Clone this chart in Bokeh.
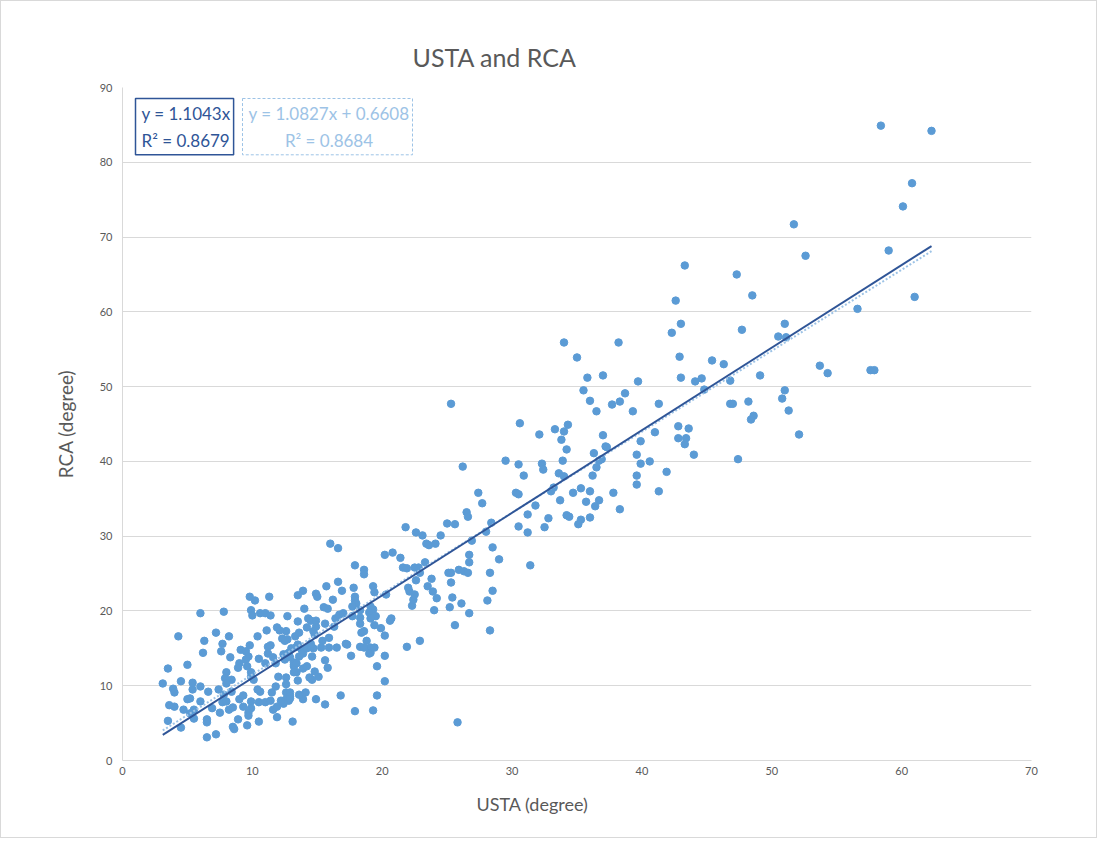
from bokeh.plotting import figure
from bokeh.models import Label, Range1d, SingleIntervalTicker, Title
from bokeh.embed import file_html
from bokeh.resources import INLINE

# ---- data ----
usta = [58.4, 62.3, 60.8, 60.1, 51.7, 59.0, 52.6, 43.3, 47.3, 42.6, 48.5, 61.0, 56.6, 51.0, 43.0, 42.3, 47.7, 50.5, 51.1, 34.0,
        38.2, 35.0, 42.9, 45.4, 46.3, 53.7, 54.3, 57.6, 57.9, 35.8, 37.0, 43.0, 44.1, 44.6, 39.7, 46.8, 49.1, 44.8, 35.5, 51.0,
        50.8, 51.3, 52.1, 36.0, 37.7, 38.3, 38.7, 36.5, 39.3, 41.3, 46.8, 47.0, 48.2, 48.6, 48.4, 30.6, 34.3, 33.3, 34.0, 32.1,
        33.8, 34.2, 37.0, 37.2, 37.3, 36.3, 36.9, 36.7, 36.5, 36.2, 33.9, 32.3, 32.4, 30.5, 30.9, 29.5, 33.6, 34.0, 41.0, 39.9,
        39.6, 39.9, 40.6, 39.6, 39.6, 41.9, 41.3, 42.8, 43.6, 42.8, 43.4, 43.3, 44.0, 47.4, 37.8, 38.3, 33.0, 33.2, 33.7, 34.7,
        35.3, 36.0, 35.7, 36.7, 36.4, 30.3, 30.5, 31.8, 31.2, 32.8, 34.2, 34.4, 35.3, 36.0, 25.3, 26.2, 27.4, 27.7, 35.1, 30.5,
        31.2, 32.5, 26.5, 26.6, 25.0, 25.6, 21.8, 22.6, 23.1, 24.5, 23.4, 23.6, 24.1, 26.9, 28.0, 28.4, 28.5, 29.0, 26.7, 26.7,
        31.4, 28.3, 20.2, 20.8, 21.4, 23.3, 21.6, 21.9, 22.5, 22.8, 22.9, 25.1, 25.3, 25.9, 26.3, 26.6, 16.0, 16.6, 17.9, 18.6,
        18.6, 16.6, 15.7, 16.9, 17.8, 19.3, 19.4, 20.3, 13.9, 13.5, 14.9, 15.0, 16.2, 17.9, 17.9, 14.0, 15.5, 15.8, 18.0, 17.7,
        18.3, 19.1, 19.3, 19.0, 19.5, 19.1, 19.4, 19.9, 20.7, 20.6, 20.2, 12.7, 13.5, 14.3, 14.5, 14.9, 14.2, 14.9, 15.6, 16.4,
        16.7, 17.0, 16.3, 17.7, 18.3, 18.3, 18.4, 18.6, 18.8, 19.1, 19.1, 19.0, 19.4, 18.3, 18.6, 17.2, 17.3, 17.6, 16.5, 15.9,
        15.9, 15.4, 14.8, 14.7, 15.3, 14.5, 14.7, 14.6, 15.6, 15.8, 14.4, 14.6, 15.1, 14.8, 13.9, 13.4, 13.2, 13.5, 12.6, 13.6,
        13.8, 13.4, 13.0, 12.7, 12.6, 13.2, 13.2, 19.6, 20.2, 20.2, 19.6, 19.3, 17.9, 16.8, 15.6, 14.9, 13.1, 12.6, 12.9, 12.9,
        12.6, 21.9, 22.9, 25.6, 28.3, 25.8, 26.7, 28.1, 28.5, 26.1, 25.2, 24.0, 25.4, 25.3, 24.2, 23.9, 23.5, 23.8, 22.3, 22.4,
        22.5, 22.6, 22.1, 22.0, 12.5, 12.9, 9.8, 10.2, 11.3, 6.0, 7.8, 9.9, 10.0, 10.6, 11.0, 11.4, 4.3, 7.2, 8.2, 6.3,
        7.7, 7.6, 6.2, 10.4, 11.1, 11.9, 12.1, 12.3, 12.5, 13.3, 13.6, 13.5, 11.2, 9.1, 9.5, 9.8, 9.7, 9.5, 9.6, 9.9,
        9.9, 10.1, 8.3, 9.0, 8.9, 8.0, 7.9, 8.4, 8.0, 10.5, 11.0, 11.2, 11.4, 11.6, 11.8, 12.0, 11.8, 12.4, 12.8, 13.2,
        13.4, 13.9, 14.2, 14.5, 14.2, 5.0, 3.5, 3.1, 4.5, 3.9, 4.0, 5.4, 6.6, 5.0, 5.2, 6.0, 3.6, 4.0, 4.7, 5.5,
        5.2, 3.5, 4.5, 5.5, 6.5, 6.5, 7.5, 6.9, 8.2, 8.5, 7.7, 8.0, 8.4, 9.0, 9.3, 9.9, 9.9, 9.7, 9.7, 10.5,
        8.5, 8.6, 8.9, 10.5, 9.6, 6.5, 7.2, 11.9, 11.0, 11.4, 11.6, 11.9, 12.8, 12.9, 12.4, 13.9, 13.6, 14.1, 12.6, 12.2,
        11.5, 10.6, 10.4, 9.3, 7.8, 7.4, 6.0, 5.4]
rca = [84.9, 84.2, 77.2, 74.1, 71.7, 68.2, 67.5, 66.2, 65.0, 61.5, 62.2, 62.0, 60.4, 58.4, 58.4, 57.2, 57.6, 56.7, 56.6, 55.9,
       55.9, 53.9, 54.0, 53.5, 53.0, 52.8, 51.8, 52.2, 52.2, 51.2, 51.5, 51.2, 50.7, 51.1, 50.7, 50.8, 51.5, 49.6, 49.5, 49.5,
       48.4, 46.8, 43.6, 48.1, 47.6, 48.0, 49.1, 46.7, 46.7, 47.7, 47.7, 47.7, 48.0, 46.1, 45.6, 45.1, 44.9, 44.3, 44.0, 43.6,
       42.9, 41.6, 43.5, 42.0, 41.9, 41.1, 40.3, 40.1, 39.2, 38.1, 40.1, 39.7, 38.9, 39.6, 38.1, 40.1, 38.4, 38.0, 43.9, 42.7,
       40.9, 39.7, 40.0, 38.1, 36.9, 38.6, 36.0, 44.7, 44.4, 43.1, 43.1, 42.3, 40.9, 40.3, 35.8, 33.6, 36.0, 36.5, 34.8, 35.8,
       36.4, 36.0, 34.6, 34.8, 34.0, 35.8, 35.6, 34.1, 32.9, 32.4, 32.8, 32.6, 32.2, 32.5, 47.7, 39.3, 35.8, 34.4, 31.6, 31.3,
       30.5, 31.2, 33.2, 32.6, 31.7, 31.6, 31.2, 30.5, 30.1, 30.1, 29.0, 28.8, 29.0, 29.4, 30.6, 31.8, 28.5, 26.9, 27.5, 26.5,
       26.1, 25.1, 27.5, 27.8, 27.1, 26.5, 25.8, 25.7, 25.8, 25.8, 25.1, 25.1, 25.1, 25.5, 25.3, 25.1, 29.0, 28.4, 26.1, 25.5,
       24.9, 23.9, 23.3, 22.7, 23.1, 23.3, 22.5, 22.2, 22.7, 22.1, 22.3, 21.9, 21.5, 21.9, 21.4, 20.3, 20.5, 20.3, 21.0, 20.6,
       20.1, 20.6, 20.2, 19.8, 19.3, 19.0, 18.1, 17.7, 19.0, 18.7, 16.7, 19.3, 18.6, 19.0, 18.7, 18.7, 17.8, 17.9, 18.3, 19.0,
       19.5, 19.7, 17.9, 19.3, 19.1, 18.3, 17.1, 17.3, 16.0, 15.1, 14.4, 14.3, 15.1, 15.2, 15.1, 15.6, 15.5, 14.0, 15.1, 16.4,
       15.1, 16.0, 16.8, 17.3, 15.1, 15.6, 15.0, 13.9, 13.4, 12.4, 11.1, 10.8, 11.2, 11.9, 12.3, 11.8, 11.8, 10.7, 11.1, 13.9,
       14.8, 15.2, 15.0, 16.2, 17.3, 13.1, 12.6, 12.6, 14.0, 10.6, 8.7, 6.7, 6.6, 8.7, 7.5, 8.2, 5.2, 9.1, 9.1, 8.6,
       8.2, 15.2, 16.0, 18.1, 17.4, 5.1, 19.7, 21.4, 22.7, 21.0, 20.5, 20.1, 21.8, 23.8, 21.7, 22.6, 23.3, 24.3, 20.7, 21.5,
       22.2, 24.1, 22.6, 23.1, 13.5, 13.8, 21.9, 21.4, 21.9, 19.7, 19.9, 20.1, 19.4, 19.7, 19.7, 19.4, 16.6, 17.1, 16.6, 16.0,
       15.6, 14.6, 14.4, 16.6, 17.4, 17.8, 17.4, 16.3, 16.0, 16.6, 17.1, 15.5, 15.2, 14.8, 14.6, 15.4, 13.9, 13.5, 12.6, 11.8,
       11.2, 10.8, 13.8, 13.0, 12.4, 11.8, 11.0, 10.8, 10.3, 13.6, 13.0, 14.3, 15.4, 13.8, 13.0, 11.2, 9.9, 14.2, 14.4, 12.8,
       13.0, 14.3, 15.0, 15.2, 12.6, 12.8, 12.3, 10.3, 10.6, 9.6, 9.1, 9.5, 9.2, 8.2, 8.3, 7.9, 7.4, 7.2, 6.8, 6.8,
       6.3, 5.3, 4.4, 5.6, 5.5, 5.1, 6.4, 7.0, 6.8, 7.1, 7.8, 7.9, 9.2, 8.2, 7.2, 7.9, 7.0, 6.4, 6.0, 7.8,
       4.5, 4.2, 5.5, 5.2, 4.7, 3.1, 3.5, 5.8, 7.8, 8.0, 6.8, 7.2, 8.0, 8.3, 7.6, 8.2, 8.8, 9.1, 10.2, 8.0,
       9.1, 9.2, 9.5, 8.7, 8.8, 9.5, 9.9, 10.4]

x_ticks_step = 10
y_ticks_step = 10
title_text = "USTA and RCA"
x_title = "USTA (degree)"
y_title = "RCA (degree)"
# trendlines (as shown in the reference)
slope_0 = 1.1043            # y = 1.1043x (through origin)
r2_0 = 0.8679
slope_1, icpt_1 = 1.0827, 0.6608
r2_1 = 0.8684

FONT = "Lato"
GREY = "#595959"
POINT = "#5B9BD5"
DARK = "#2F5597"
LIGHT = "#9DC3E6"

W, H = 1097, 838
L, T = 121, 86
FW, FH = 909, 673
R, B = W - L - FW, H - T - FH
XMAX, YMAX = 70, 90

p = figure(width=W, height=H, output_backend="svg", toolbar_location=None,
           x_range=Range1d(0, XMAX), y_range=Range1d(0, YMAX),
           min_border_left=L, min_border_right=R, min_border_top=T, min_border_bottom=B,
           background_fill_color="white", border_fill_color="white",
           styles={"border": "1px solid #D9D9D9"})
p.outline_line_color = None

def dx(px):  # frame-relative pixel -> data x (for annotation placement)
    return px / FW * XMAX
def dy(py):  # frame-relative pixel from top -> data y
    return (FH - py) / FH * YMAX

# title
p.title.text = title_text
p.title.text_font = FONT
p.title.text_font_size = "25px"
p.title.text_font_style = "normal"
p.title.text_color = GREY
p.title.align = "left"
p.title.offset = 290
p.title.standoff = 32

# axes
for ax in (p.xaxis[0], p.yaxis[0]):
    ax.axis_line_color = "#D9D9D9"
    ax.major_tick_line_color = None
    ax.minor_tick_line_color = None
    ax.major_tick_out = 0
    ax.major_tick_in = 0
    ax.minor_tick_out = 0
    ax.major_label_text_font = FONT
    ax.major_label_text_font_size = "11px"
    ax.major_label_text_color = GREY
p.xaxis.ticker = SingleIntervalTicker(interval=x_ticks_step)
p.yaxis.ticker = SingleIntervalTicker(interval=y_ticks_step)
p.xaxis.major_label_standoff = 6
p.yaxis.major_label_standoff = 10
p.yaxis.axis_label = y_title
p.yaxis.axis_label_text_font = FONT
p.yaxis.axis_label_text_font_size = "19px"
p.yaxis.axis_label_text_font_style = "normal"
p.yaxis.axis_label_text_color = GREY
p.yaxis.axis_label_standoff = 20

# x axis title (placed like the reference, left of the frame centre)
xt = Title(text=x_title, align="left", offset=354, standoff=27,
           text_font=FONT, text_font_size="18px", text_font_style="normal", text_color=GREY)
p.add_layout(xt, "below")

p.xgrid.grid_line_color = None
p.ygrid.grid_line_color = "#D9D9D9"
p.ygrid.grid_line_width = 1

# points
p.scatter(usta, rca, size=7.5, color=POINT, line_color=POINT)

# trendlines over the data's x-extent
x0, x1 = min(usta), max(usta)
p.line([x0, x1], [slope_1 * x0 + icpt_1, slope_1 * x1 + icpt_1], line_color=LIGHT, line_width=2, line_dash="2 2")
p.line([x0, x1], [slope_0 * x0, slope_0 * x1], line_color=DARK, line_width=2)

# equation boxes
p.add_layout(Label(x=dx(13), y=dy(11), text=f"y = {slope_0}x\nR\u00b2 = {r2_0}",
                   text_align="left", text_baseline="top", text_font=FONT, text_font_size="17px",
                   text_color=DARK, text_line_height=1.3,
                   border_line_color=DARK, border_line_width=1.5, background_fill_color="white",
                   padding=(6, 3, 4, 4)))
p.add_layout(Label(x=dx(205), y=dy(11), text=f"y = {slope_1}x + {icpt_1}\nR\u00b2 = {r2_1}",
                   text_align="center", text_baseline="top", text_font=FONT, text_font_size="17px",
                   text_color=LIGHT, text_line_height=1.3,
                   border_line_color=LIGHT, border_line_width=1, border_line_dash="3 2",
                   background_fill_color="white", padding=(6, 3, 4, 4)))

open("out.html", "w").write(file_html(p, INLINE))
